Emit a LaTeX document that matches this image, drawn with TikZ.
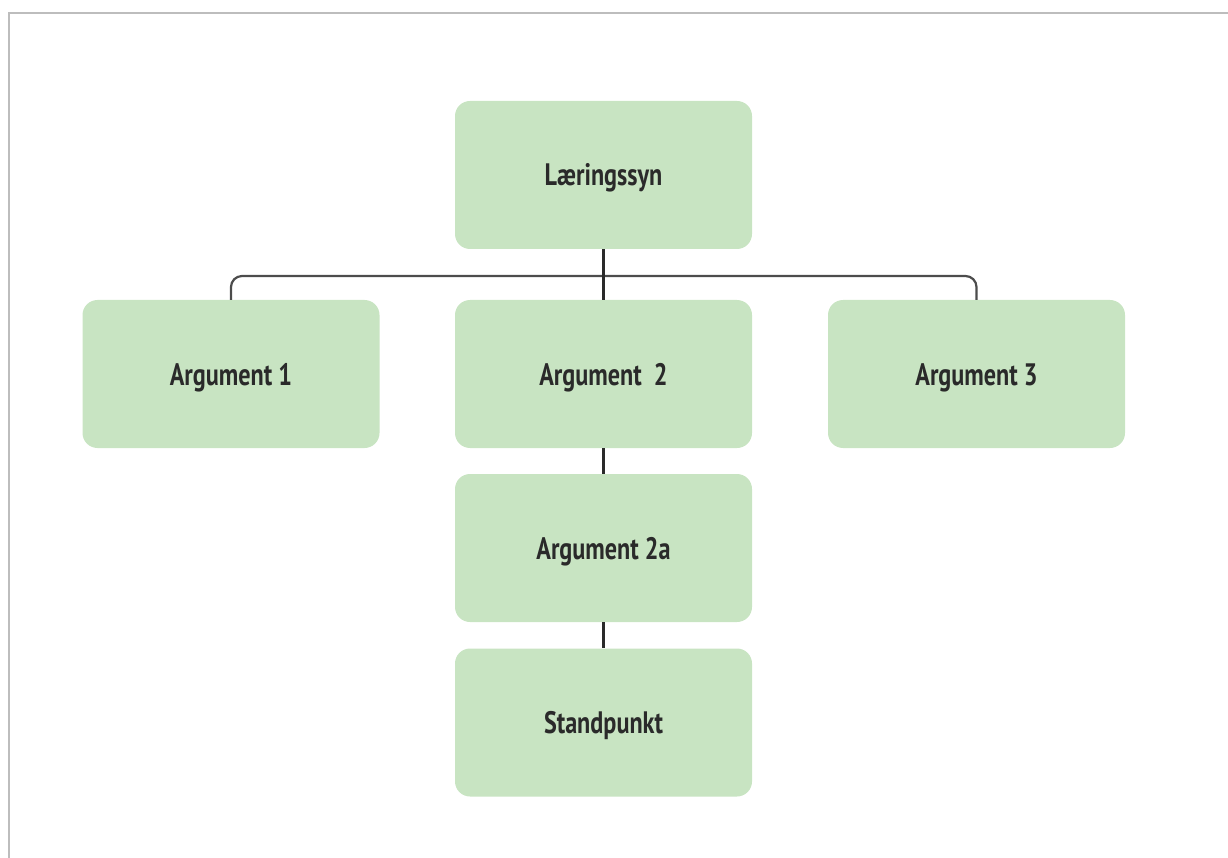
\documentclass[tikz,border=0pt]{standalone}
\usepackage{fontspec}
\setmainfont{PT Sans}[FakeStretch=0.78]
\usetikzlibrary{calc}
\definecolor{boxgreen}{HTML}{C8E4C2}
\definecolor{inkdark}{HTML}{2A2A2A}
\definecolor{framegray}{HTML}{BDBDBD}
\tikzset{
  chartbox/.style={fill=boxgreen, draw=none, rounded corners=15pt,
    minimum width=297pt, minimum height=148pt, inner sep=0pt,
    text height=22pt, text depth=0pt,
    text=inkdark, font=\fontsize{31}{36}\selectfont\bfseries},
  trunk/.style={draw=inkdark, line width=3pt},
  branch/.style={draw=black!70, line width=2.2pt, rounded corners=11pt},
}
\begin{document}
\begin{tikzpicture}[x=1pt, y=-1pt]
  \useasboundingbox (0,0) rectangle (1228,858);
  % page frame
  \draw[framegray, line width=2pt] (9,858) -- (9,13) -- (1228,13);

  \node[chartbox] (L)   at (603.5,175)   {Læringssyn};
  \node[chartbox] (A1)  at (231,374)     {Argument 1};
  \node[chartbox] (A2)  at (603.5,374)   {Argument\ \ 2};
  \node[chartbox] (A3)  at (976.5,374)   {Argument 3};
  \node[chartbox] (A2a) at (603.5,548)   {Argument 2a};
  \node[chartbox] (S)   at (603.5,722.5) {Standpunkt};

  \coordinate (bar) at ($(L.south)!0.53!(A2.north)$);
  \draw[branch] (A1.north) |- (bar) -| (A3.north);
  \draw[trunk] (L.south) -- (A2.north);
  \draw[trunk] (A2.south) -- (A2a.north);
  \draw[trunk] (A2a.south) -- (S.north);
\end{tikzpicture}
\end{document}
